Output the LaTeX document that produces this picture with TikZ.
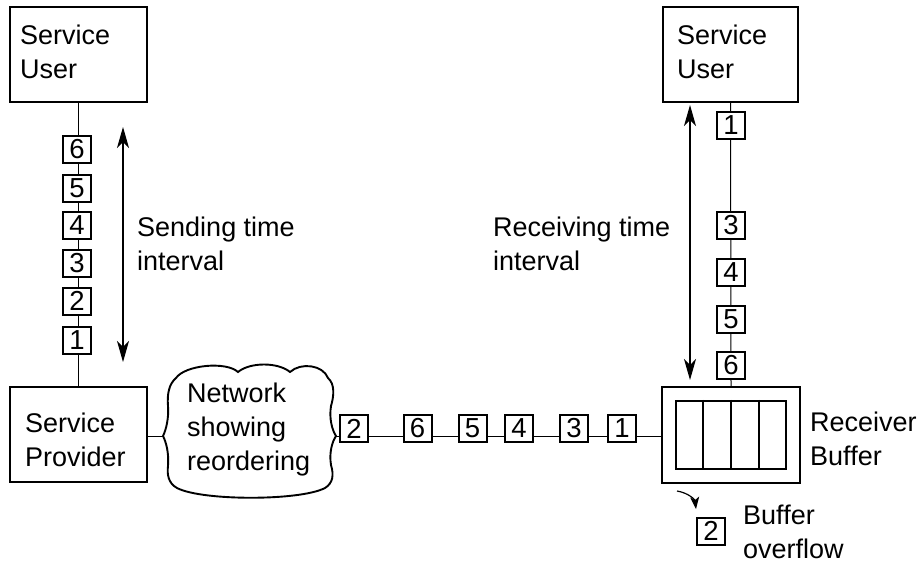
\documentclass[tikz,border=0pt]{standalone}
\usepackage{fontspec}
\setmainfont{Liberation Sans}
\usetikzlibrary{arrows.meta,calc}
\begin{document}
\begin{tikzpicture}[x=1pt,y=-1pt,
  box/.style={draw, line width=2pt, minimum width=137pt, minimum height=95pt, inner sep=0pt},
  pkt/.style={draw, fill=white, line width=2pt, minimum width=28pt, minimum height=27pt,
              inner sep=0pt, font=\fontsize{27.5}{27.5}\selectfont},
  lbl/.style={anchor=north west, inner sep=0pt, align=left, font=\fontsize{27}{34}\selectfont},
  wire/.style={line width=1pt},
  span/.style={line width=1.2pt,
               {Stealth[length=21pt,width=12pt,inset=6pt]}-{Stealth[length=21pt,width=12pt,inset=6pt]}},
  drop/.style={line width=1.2pt, -{Stealth[length=12pt,width=9pt,inset=3pt]}}
]
\useasboundingbox (0,0) rectangle (918,563);

% end-system boxes
\node[box] (lu) at (78.5,54.5) {};
\node[box] (lp) at (78.5,434.5) {};
\node[box, minimum width=135pt] (ru) at (730.5,54.5) {};
\node[box, minimum width=138pt, minimum height=96pt] (rb) at (731,435) {};

% receiver buffer slots
\node[draw, line width=2.4pt, minimum width=110pt, minimum height=68pt, inner sep=0pt] (slots) at (731,435) {};
\foreach \f in {0.25,0.5,0.75}
  \draw[line width=2.4pt] ($(slots.north west)!\f!(slots.north east)$) -- ($(slots.south west)!\f!(slots.south east)$);

% network cloud
\coordinate (cw) at (163,436);
\coordinate (ce) at (336,436);
\draw[line width=1.9pt, fill=white]
  (176,378) .. controls (185,365) and (226,361) .. (238,372)
            .. controls (250,362) and (278,362) .. (290,372)
            .. controls (301,362) and (323,365) .. (328,378)
            .. controls (335,384) and (334,396) .. (331,406)
            .. controls (329,418) and (332,430) .. (ce)
            .. controls (332,442) and (329,453) .. (331,465)
            .. controls (334,475) and (333,483) .. (325,488)
            .. controls (300,501) and (202,501) .. (177,488)
            .. controls (168,483) and (167,474) .. (168,466)
            .. controls (169,452) and (166,442) .. (cw)
            .. controls (166,430) and (169,418) .. (168,406)
            .. controls (167,394) and (169,384) .. (176,378) -- cycle;

% connecting lines
\draw[wire] (lu.south) -- (lp.north);
\draw[wire] (lp.east |- cw) -- (cw);
\draw[wire] (ce) -- (ce -| rb.west);
\draw[wire] (ru.south) -- (rb.north);

% labels
\node[lbl] (lut) at (20,25) {Service\\User};
\node[lbl] (rut) at (677,25) {Service\\User};
\node[lbl] (lpt) at (25,413) {Service\\Provider};
\node[lbl] (net) at (187,383) {Network\\showing\\reordering};
\node[lbl] (snd) at (137,217) {Sending time\\interval};
\node[lbl] (rcv) at (493,217) {Receiving time\\interval};
\node[lbl] (rbt) at (810,412) {Receiver\\Buffer};
\node[lbl] (ovt) at (743,505) {Buffer\\overflow};

% packets leaving the sender
\node[pkt] (s6) at (77,149) {6};
\node[pkt] (s5) at (77,188) {5};
\node[pkt] (s4) at (77,225) {4};
\node[pkt] (s3) at (77,263) {3};
\node[pkt] (s2) at (77,301) {2};
\node[pkt] (s1) at (77,340) {1};

% packets in the network, reordered
\node[pkt] (n2) at (354,428.5) {2};
\node[pkt] (n6) at (417.5,428.5) {6};
\node[pkt] (n5) at (472.5,428.5) {5};
\node[pkt] (n4) at (519,428.5) {4};
\node[pkt] (n3) at (574,428.5) {3};
\node[pkt] (n1) at (622,428.5) {1};

% packets delivered to the receiving user
\node[pkt] (r1) at (731,125) {1};
\node[pkt] (r3) at (731,225.5) {3};
\node[pkt] (r4) at (731,272) {4};
\node[pkt] (r5) at (731,319.5) {5};
\node[pkt] (r6) at (731,365) {6};

% dropped packet
\node[pkt] (d2) at (711,531) {2};
\coordinate (ovs) at (677,491);
\coordinate (ove) at (696,509);
\draw[drop] (ovs) .. controls (689,493) and (695,500) .. (ove);

% time interval arrows
\coordinate (sa1) at (123,127);
\coordinate (sa2) at (123,362);
\draw[span] (sa1) -- (sa2);
\coordinate (ra1) at (690,105);
\coordinate (ra2) at (690,380);
\draw[span] (ra1) -- (ra2);
\end{tikzpicture}
\end{document}
